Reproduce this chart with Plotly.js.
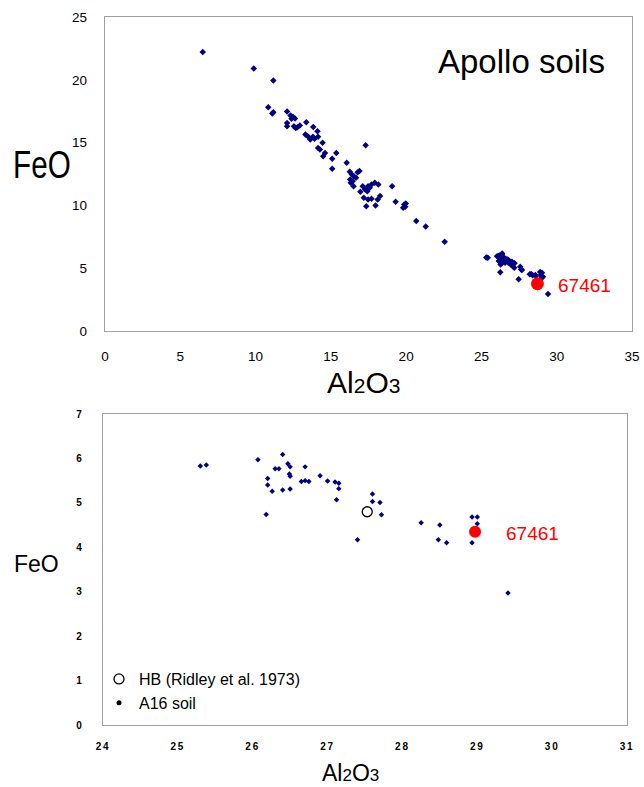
<!DOCTYPE html>
<html><head><meta charset="utf-8">
<script src="https://cdn.plot.ly/plotly-3.0.1.min.js"></script>
<style>
html,body{margin:0;padding:0;background:#fff;}
.x2tick text,.y2tick text{letter-spacing:1.8px;}
.annotation[data-index="3"] text.annotation-text{transform-box:fill-box;transform-origin:center;transform:scaleX(0.76);}
</style>
</head><body>
<div id="chart" style="width:644px;height:787px;"></div>
<script>
// ---- Top panel: Apollo soils ----
const apolloAl2O3 = [6.49,9.88,11.18,10.84,11.18,11.11,12.09,12.32,12.48,12.62,12.39,12.09,12.09,12.55,12.78,12.94,12.67,13.37,13.83,14.11,13.31,13.47,13.63,13.81,13.92,14.15,14.45,14.15,14.27,14.61,14.49,15.36,15.09,15.09,16.05,17.31,16.26,16.39,16.55,16.78,16.90,16.28,16.44,16.32,16.51,16.67,16.96,17.12,17.28,17.47,17.58,17.70,17.42,17.92,18.15,17.19,17.47,17.70,17.35,17.97,18.27,18.11,19.07,19.30,19.87,19.94,19.80,19.98,20.67,21.30,22.56,25.32,25.42,26.04,26.14,26.20,26.36,26.38,26.47,26.50,26.25,26.58,26.61,26.73,26.80,26.84,26.15,26.27,26.38,26.57,26.34,26.79,26.95,27.03,27.07,27.20,27.18,26.25,27.47,27.58,27.69,27.64,28.21,28.31,28.40,28.58,28.62,28.90,29.02,28.94,29.09,29.01,29.42];
const apolloFeO = [22.22,20.89,19.94,17.82,17.42,17.31,17.47,17.15,17.05,16.91,16.89,16.57,16.30,16.30,16.22,16.36,16.17,16.62,16.25,15.91,15.64,15.51,15.24,15.46,15.30,15.46,14.98,14.58,14.45,14.18,13.92,14.18,13.71,12.91,13.39,14.79,12.67,12.46,12.31,12.64,12.73,12.06,11.93,11.80,11.53,12.20,11.08,11.53,11.27,11.53,11.40,11.66,11.13,11.80,11.66,10.60,10.47,10.52,9.94,10.00,10.74,10.47,11.53,10.29,10.07,9.89,9.81,10.15,8.75,8.32,7.10,5.86,5.83,5.96,5.97,6.02,6.10,6.18,5.79,5.83,5.52,5.65,5.75,5.70,5.65,5.57,5.57,5.30,5.43,5.43,5.70,5.43,5.30,5.52,5.17,5.39,5.04,4.67,4.12,5.12,4.86,4.90,4.51,4.54,4.43,4.46,4.37,4.69,4.64,4.43,4.32,4.24,2.95];
const top67461Al2O3 = [28.72];
const top67461FeO = [3.76];
const topXTicks = [0,5,10,15,20,25,30,35];
const topYTicks = [0,5,10,15,20,25];

// ---- Bottom panel: A16 soils ----
const a16Al2O3 = [25.30,25.38,26.07,26.40,26.30,26.35,26.47,26.50,26.49,26.50,26.70,26.20,26.20,26.26,26.40,26.50,26.65,26.70,26.75,26.90,27.00,27.10,27.15,27.15,27.12,26.18,27.40,27.60,27.60,27.70,27.72,28.25,28.50,28.48,28.59,28.93,29.00,29.00,28.93,29.41];
const a16FeO = [5.83,5.85,5.97,6.09,5.77,5.77,5.88,5.81,5.65,5.60,5.81,5.55,5.40,5.26,5.29,5.31,5.48,5.50,5.48,5.61,5.49,5.47,5.44,5.32,5.07,4.74,4.17,5.20,5.03,5.01,4.73,4.55,4.50,4.17,4.10,4.68,4.68,4.53,4.10,2.97];
const hbAl2O3 = [27.53];
const hbFeO = [4.80];
const bot67461Al2O3 = [28.97];
const bot67461FeO = [4.35];
const botXTicks = [24,25,26,27,28,29,30,31];
const botYTicks = [0,1,2,3,4,5,6,7];

const W = 644, H = 787;
const px = v => v / W;
const py = v => 1 - v / H;
const FONT = 'Liberation Sans, Arial, sans-serif';
const NAVY = '#000080';
const FRAME = '#a0a0a0';

const traces = [
  {x: apolloAl2O3, y: apolloFeO, xaxis: 'x', yaxis: 'y', type: 'scatter', mode: 'markers',
   marker: {symbol: 'diamond', size: 5, color: NAVY}, showlegend: false, name: 'Apollo soils'},
  {x: top67461Al2O3, y: top67461FeO, xaxis: 'x', yaxis: 'y', type: 'scatter', mode: 'markers',
   marker: {symbol: 'circle', size: 13, color: '#ff0000'}, showlegend: false, name: '67461'},
  {x: a16Al2O3, y: a16FeO, xaxis: 'x2', yaxis: 'y2', type: 'scatter', mode: 'markers',
   marker: {symbol: 'diamond', size: 4.2, color: NAVY}, showlegend: false, name: 'A16 soil'},
  {x: hbAl2O3, y: hbFeO, xaxis: 'x2', yaxis: 'y2', type: 'scatter', mode: 'markers',
   marker: {symbol: 'circle-open', size: 10, color: '#000000', line: {width: 1.3, color: '#000000'}},
   name: 'HB (Ridley et al. 1973)', legendgroup: 'a', showlegend: true},
  {x: [null], y: [null], xaxis: 'x2', yaxis: 'y2', type: 'scatter', mode: 'markers',
   marker: {symbol: 'circle', size: 5, color: '#000000'}, name: 'A16 soil', legendgroup: 'b', showlegend: true},
  {x: bot67461Al2O3, y: bot67461FeO, xaxis: 'x2', yaxis: 'y2', type: 'scatter', mode: 'markers',
   marker: {symbol: 'circle', size: 12, color: '#ff0000'}, showlegend: false, name: '67461'}
];

const axBase = {showline: true, mirror: true, linecolor: FRAME, linewidth: 1.3, ticks: '',
  showgrid: false, zeroline: false, fixedrange: true};

const layout = {
  width: W, height: H,
  margin: {l: 0, r: 0, t: 0, b: 0},
  paper_bgcolor: '#ffffff', plot_bgcolor: '#ffffff',
  font: {family: FONT, color: '#000000'},
  showlegend: true,
  legend: {x: px(99), y: py(662), xanchor: 'left', yanchor: 'top', bgcolor: 'rgba(0,0,0,0)',
    font: {family: FONT, size: 16, color: '#000000'}, traceorder: 'grouped', tracegroupgap: 0,
    itemwidth: 30},
  xaxis: Object.assign({}, axBase, {domain: [px(105), px(632)], range: [0, 35], anchor: 'y',
    tickmode: 'array', tickvals: topXTicks, ticklabelstandoff: 12,
    tickfont: {family: FONT, size: 13.5, color: '#000000'}}),
  yaxis: Object.assign({}, axBase, {domain: [py(331), py(17)], range: [0, 25], anchor: 'x',
    tickmode: 'array', tickvals: topYTicks, ticklabelstandoff: 14,
    tickfont: {family: FONT, size: 13.5, color: '#000000'}}),
  xaxis2: Object.assign({}, axBase, {domain: [px(103), px(627)], range: [24, 31], anchor: 'y2',
    tickmode: 'array', tickvals: botXTicks, ticklabelstandoff: 12,
    tickfont: {family: FONT, size: 10, color: '#000000', weight: 'bold'}}),
  yaxis2: Object.assign({}, axBase, {domain: [py(725), py(414)], range: [0, 7], anchor: 'x2',
    tickmode: 'array', tickvals: botYTicks, ticklabelstandoff: 16,
    tickfont: {family: FONT, size: 10, color: '#000000', weight: 'bold'}}),
  annotations: [
    {text: 'Apollo soils', xref: 'paper', yref: 'paper', x: px(521), y: py(62), xanchor: 'center', yanchor: 'middle',
     showarrow: false, font: {family: FONT, size: 33, color: '#000000'}},
    {text: '67461', xref: 'paper', yref: 'paper', x: px(556), y: py(285), xanchor: 'left', yanchor: 'middle',
     showarrow: false, font: {family: FONT, size: 19, color: '#ff0000'}},
    {text: '67461', xref: 'paper', yref: 'paper', x: px(504), y: py(533), xanchor: 'left', yanchor: 'middle',
     showarrow: false, font: {family: FONT, size: 19, color: '#ff0000'}},
    {text: 'FeO', xref: 'paper', yref: 'paper', x: px(42), y: py(164), xanchor: 'center', yanchor: 'middle',
     showarrow: false, font: {family: FONT, size: 39, color: '#000000'}},
    {text: 'Al<span style="font-size:21px">2</span>O<span style="font-size:21px">3</span>', xref: 'paper', yref: 'paper',
     x: px(363), y: py(383), xanchor: 'center', yanchor: 'middle',
     showarrow: false, font: {family: FONT, size: 30, color: '#000000'}},
    {text: 'FeO', xref: 'paper', yref: 'paper', x: px(36), y: py(564), xanchor: 'center', yanchor: 'middle',
     showarrow: false, font: {family: FONT, size: 23, color: '#000000'}},
    {text: 'Al<span style="font-size:17px">2</span>O<span style="font-size:17px">3</span>', xref: 'paper', yref: 'paper',
     x: px(350), y: py(773), xanchor: 'center', yanchor: 'middle',
     showarrow: false, font: {family: FONT, size: 23, color: '#000000'}}
  ]
};

Plotly.newPlot('chart', traces, layout, {staticPlot: true, displayModeBar: false});
</script>
</body></html>
